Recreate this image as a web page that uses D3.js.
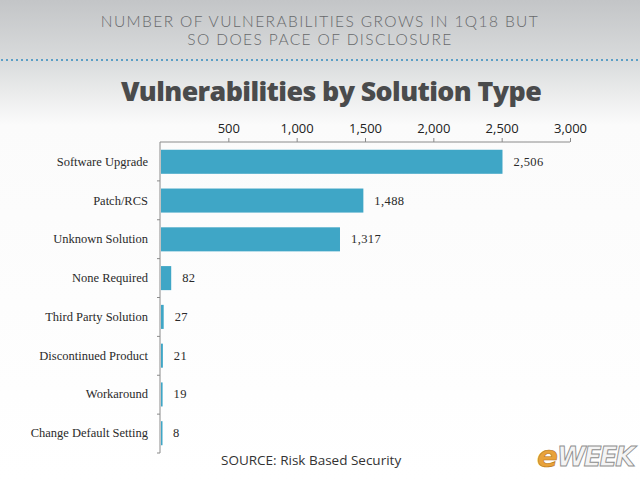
<!DOCTYPE html>
<html>
<head>
<meta charset="utf-8">
<script src="https://cdn.jsdelivr.net/npm/d3@7"></script>
<style>
  html, body { margin: 0; padding: 0; background: #fff; }
  svg { display: block; }
</style>
</head>
<body>
<div id="svg-container"></div>
<script>
// data
const categories = [
  "Software Upgrade",
  "Patch/RCS",
  "Unknown Solution",
  "None Required",
  "Third Party Solution",
  "Discontinued Product",
  "Workaround",
  "Change Default Setting"
];
const counts = [2506, 1488, 1317, 82, 27, 21, 19, 8];
const tickValues = [500, 1000, 1500, 2000, 2500, 3000];

const width = 640;
const height = 480;
const margin = { top: 142, right: 70, bottom: 27, left: 160 };

const svg = d3.select("#svg-container").append("svg")
  .attr("width", width)
  .attr("height", height);

// background
const defs = svg.append("defs");
const bg = defs.append("linearGradient")
  .attr("id", "bg")
  .attr("x1", 0).attr("y1", 0).attr("x2", 0).attr("y2", 1);
bg.append("stop").attr("offset", "0").attr("stop-color", "#c3c5c7");
bg.append("stop").attr("offset", "0.12").attr("stop-color", "#d8dadb");
bg.append("stop").attr("offset", "0.26").attr("stop-color", "#fbfbfb");
bg.append("stop").attr("offset", "1").attr("stop-color", "#ffffff");
svg.append("rect").attr("width", width).attr("height", height).attr("fill", "url(#bg)");

// header
const headerLines = ["NUMBER OF VULNERABILITIES GROWS IN 1Q18 BUT", "SO DOES PACE OF DISCLOSURE"];
svg.selectAll(".header")
  .data(headerLines)
  .enter()
  .append("text")
  .attr("class", "header")
  .attr("x", width / 2)
  .attr("y", (d, i) => 27 + i * 18)
  .attr("text-anchor", "middle")
  .style("font-family", "Lato, 'Open Sans', sans-serif")
  .style("font-weight", 300)
  .style("font-size", "15.5px")
  .style("letter-spacing", "1.4px")
  .style("fill", "#67696b")
  .text(d => d);

svg.append("line")
  .attr("x1", 1).attr("x2", width)
  .attr("y1", 60).attr("y2", 60)
  .attr("stroke", "#5b9fc6")
  .attr("stroke-width", 2)
  .attr("stroke-dasharray", "2,3");

svg.append("text")
  .attr("x", 331).attr("y", 101)
  .attr("text-anchor", "middle")
  .style("font-family", "'Open Sans', 'DejaVu Sans', sans-serif")
  .style("font-weight", 800)
  .style("font-size", "26.8px")
  .style("letter-spacing", "-0.6px")
  .style("fill", "#4a4b4c")
  .text("Vulnerabilities by Solution Type");

// scales
const xScale = d3.scaleLinear()
  .domain([0, 3000])
  .range([margin.left, width - margin.right]);

const yScale = d3.scaleBand()
  .domain(categories)
  .range([margin.top, height - margin.bottom])
  .paddingInner(0.38)
  .paddingOuter(0.2);

// top axis
const xAxis = d3.axisTop(xScale)
  .tickValues(tickValues)
  .tickSize(4)
  .tickFormat(d3.format(","));

const gx = svg.append("g")
  .attr("class", "x-axis")
  .attr("transform", `translate(0, ${margin.top})`)
  .call(xAxis);
gx.select(".domain").attr("stroke", "#8a8a8a").attr("d", `M${margin.left},0H${width - margin.right}`);
gx.selectAll(".tick line").attr("stroke", "#8a8a8a");
gx.selectAll(".tick text")
  .attr("y", -9)
  .style("font-family", "'Open Sans', 'DejaVu Sans', sans-serif")
  .style("font-size", "13px")
  .style("fill", "#222");

// left axis line with ticks at band boundaries
const bounds = d3.range(categories.length + 1).map(i => margin.top + i * ((height - margin.bottom - margin.top) / categories.length));
svg.append("line")
  .attr("x1", margin.left).attr("x2", margin.left)
  .attr("y1", margin.top).attr("y2", height - margin.bottom)
  .attr("stroke", "#8a8a8a");
svg.selectAll(".y-tick")
  .data(bounds.slice(1))
  .enter()
  .append("line")
  .attr("class", "y-tick")
  .attr("x1", margin.left - 3).attr("x2", margin.left)
  .attr("y1", d => d).attr("y2", d => d)
  .attr("stroke", "#8a8a8a");

// bars
svg.selectAll(".bar")
  .data(counts)
  .enter()
  .append("rect")
  .attr("class", "bar")
  .attr("x", xScale(0) + 1)
  .attr("y", (d, i) => yScale(categories[i]))
  .attr("width", d => Math.max(xScale(d) - xScale(0) - 1, 1.5))
  .attr("height", yScale.bandwidth())
  .attr("fill", "#3fa6c6");

// category labels
svg.selectAll(".cat-label")
  .data(categories)
  .enter()
  .append("text")
  .attr("class", "cat-label")
  .attr("x", margin.left - 12)
  .attr("y", d => yScale(d) + yScale.bandwidth() / 2 + 4)
  .attr("text-anchor", "end")
  .style("font-family", "'Liberation Serif', 'DejaVu Serif', serif")
  .style("font-size", "12.5px")
  .style("fill", "#2a2a2a")
  .text(d => d);

// value labels
svg.selectAll(".val-label")
  .data(counts)
  .enter()
  .append("text")
  .attr("class", "val-label")
  .attr("x", d => Math.max(xScale(d), xScale(0) + 2) + 11)
  .attr("y", (d, i) => yScale(categories[i]) + yScale.bandwidth() / 2 + 4)
  .style("font-family", "'Liberation Serif', 'DejaVu Serif', serif")
  .style("font-size", "12.5px")
  .style("letter-spacing", "0.4px")
  .style("fill", "#2a2a2a")
  .text(d => d3.format(",")(d));

// source
svg.append("text")
  .attr("x", 221).attr("y", 465)
  .style("font-family", "'Open Sans', 'DejaVu Sans', sans-serif")
  .style("font-size", "13.5px")
  .style("fill", "#333")
  .text("SOURCE: Risk Based Security");

// logo
const logo = svg.append("g").attr("transform", "translate(537, 467)");
logo.append("text")
  .attr("x", 0).attr("y", 0)
  .style("font-family", "'DejaVu Sans', sans-serif")
  .style("font-weight", 700)
  .style("font-style", "italic")
  .style("font-size", "31px")
  .style("fill", "#e8a23a")
  .style("stroke", "#b77718")
  .style("stroke-width", 0.6)
  .text("e");
logo.append("text")
  .attr("x", 20).attr("y", -1)
  .style("font-family", "'DejaVu Sans', sans-serif")
  .style("font-weight", 700)
  .style("font-style", "italic")
  .style("font-size", "26px")
  .style("letter-spacing", "-2px")
  .style("fill", "#f4f4f4")
  .style("stroke", "#8f8f8f")
  .style("stroke-width", 0.9)
  .text("WEEK");
</script>
</body>
</html>
